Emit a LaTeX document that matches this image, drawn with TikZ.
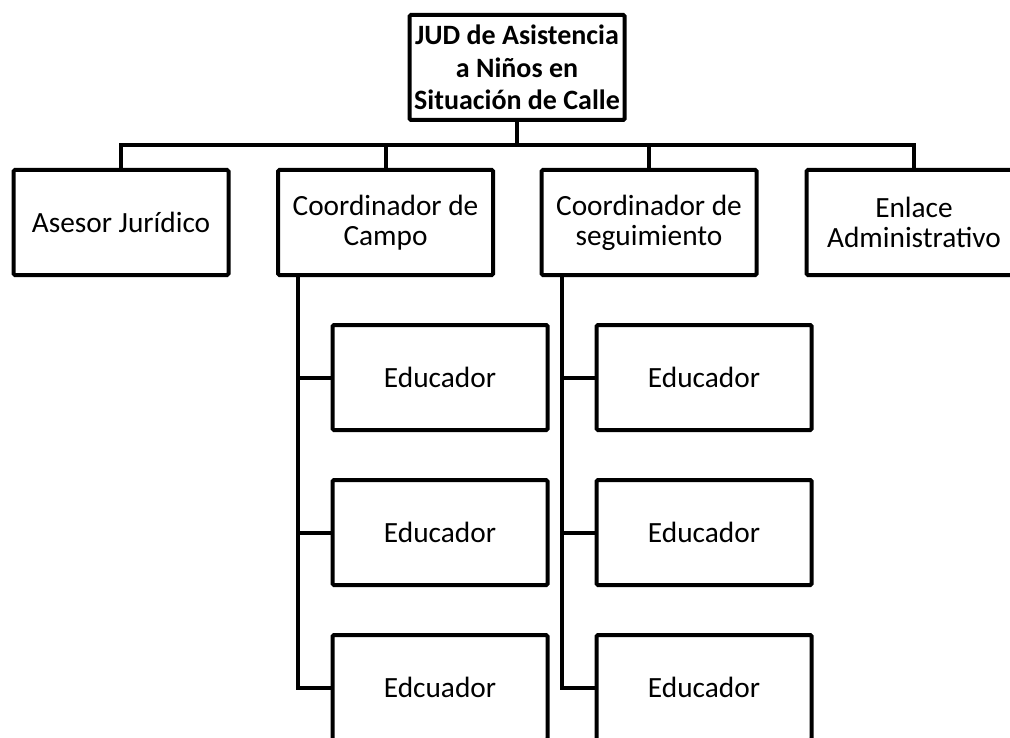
\documentclass[tikz,border=0pt]{standalone}
\usepackage{fontspec}
\setmainfont{Carlito}

\tikzstyle{block} = [draw, text centered, align = center, minimum height = 78.75pt, minimum width = 161.25pt, rounded corners = 1pt, line width = 3pt, inner sep = 0pt, font = \fontsize{22}{22.5}\selectfont]
\tikzstyle{link} = [line width = 3pt]

\begin{document}
\begin{tikzpicture}[x = 0.75pt, y = -0.75pt]
		\useasboundingbox (0, 0) rectangle (1010, 738);

		\node [block, font = \bfseries\fontsize{21}{24.4}\selectfont] at (517, 67.5) (1) {JUD de Asistencia\\a Niños en\\Situación de Calle};

		\node [block] at (121, 222.5) (2) {Asesor Jurídico};
		\node [block] at (385.5, 222.5) (3) {Coordinador de\\Campo};
		\node [block] at (649, 222.5) (4) {Coordinador de\\seguimiento};
		\node [block] at (914, 222.5) (5) {Enlace\\Administrativo};

		\node [block] at (440, 377.5) (6) {Educador};
		\node [block] at (440, 532.5) (7) {Educador};
		\node [block] at (440, 687.5) (8) {Edcuador};
		\node [block] at (704, 377.5) (9) {Educador};
		\node [block] at (704, 532.5) (10) {Educador};
		\node [block] at (704, 687.5) (11) {Educador};

		\coordinate (bus) at (517, 145);
		\coordinate (c1) at ([xshift = 16.5pt]3.south west);
		\coordinate (c2) at ([xshift = 17pt]4.south west);

  		\draw [link] (1.south) -- (bus);
  		\draw [link] (2.north) |- (bus) -| (5.north);
  		\draw [link] (3.north) -- (3.north |- bus);
  		\draw [link] (4.north) -- (4.north |- bus);

  		\draw [link] (c1) |- (8.west);
  		\draw [link] (c1 |- 6.west) -- (6.west);
  		\draw [link] (c1 |- 7.west) -- (7.west);
  		\draw [link] (c2) |- (11.west);
  		\draw [link] (c2 |- 9.west) -- (9.west);
  		\draw [link] (c2 |- 10.west) -- (10.west);
	\end{tikzpicture}
\end{document}
